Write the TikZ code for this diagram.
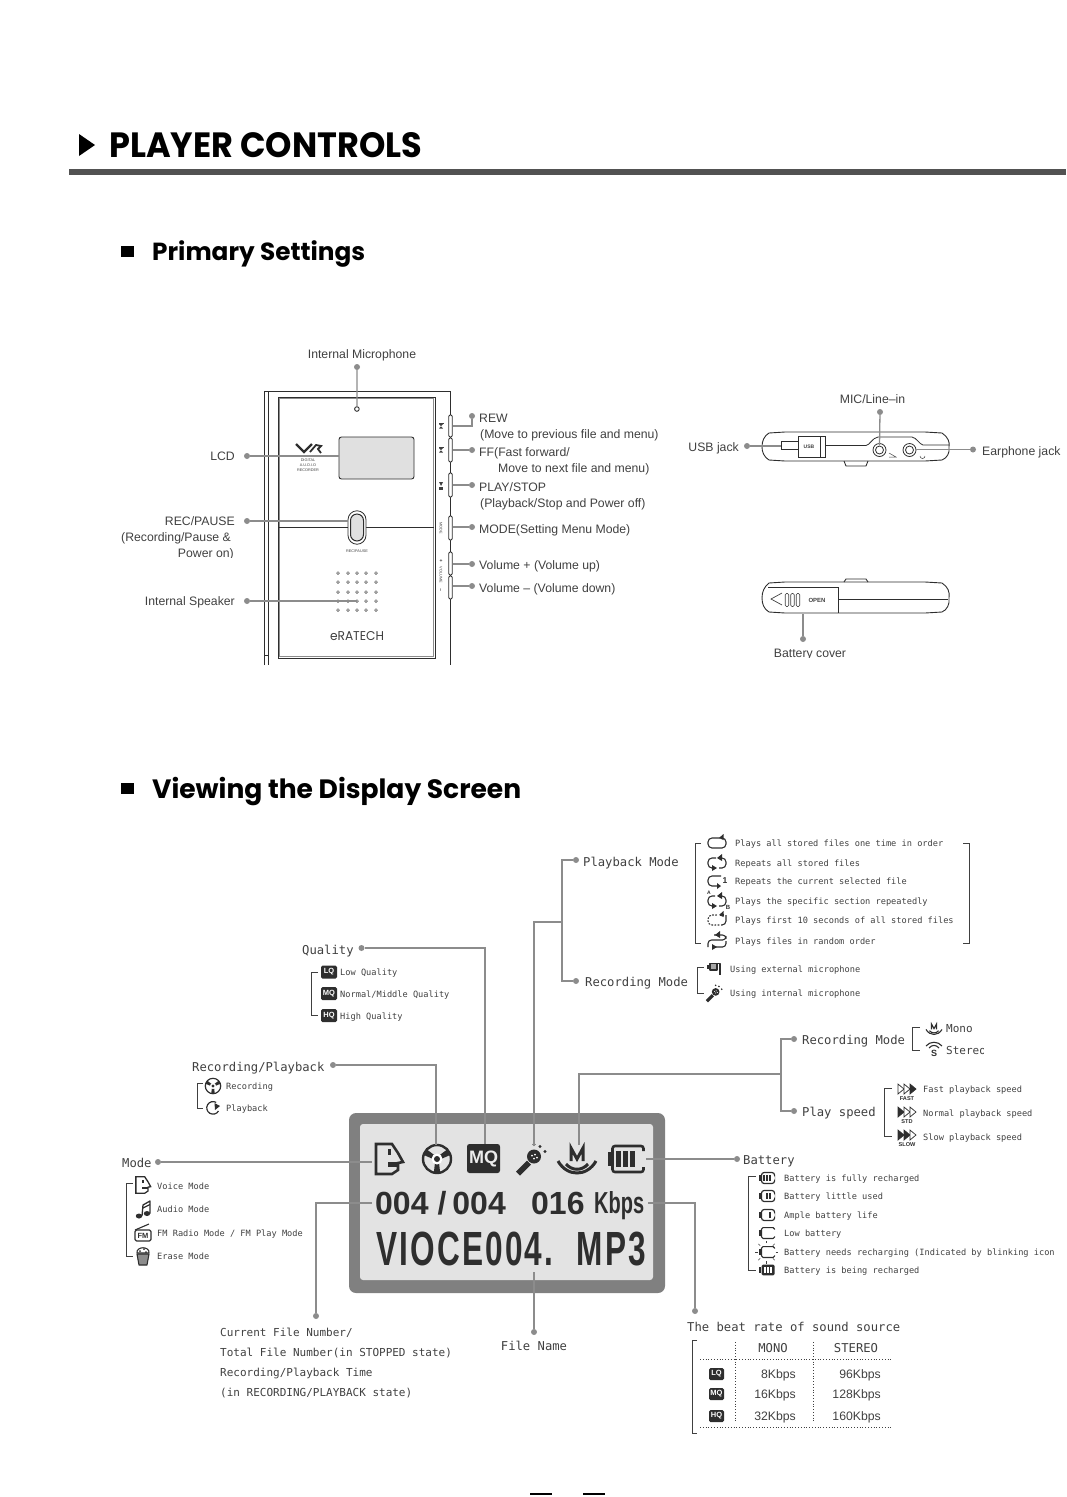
\documentclass[tikz,border=0pt]{standalone}
\usepackage{fontspec}
\usepackage{graphicx}
\setmainfont{Liberation Sans}
\newfontfamily\gm{DejaVu Sans Mono}
\newfontfamily\popn{Poppins}
\usetikzlibrary{arrows.meta,calc}
\definecolor{tx}{HTML}{404040}
\definecolor{cn}{HTML}{8C8C8C}
\definecolor{dk}{HTML}{2E2E2E}
\tikzset{
  conn/.style={draw=cn,line width=1.3pt,line join=miter},
  cdot/.style={circle,fill=cn,inner sep=0pt,minimum size=6pt},
  tsm/.style={anchor=west,inner sep=0pt,text=tx,text height=6pt,text depth=0pt,font=\gm\fontsize{8.64pt}{10pt}\selectfont},
  tmd/.style={anchor=west,inner sep=0pt,text=tx,text height=8pt,text depth=0pt,font=\gm\fontsize{11pt}{13pt}\selectfont},
  tlg/.style={anchor=west,inner sep=0pt,text=tx,text height=9pt,text depth=0pt,font=\gm\fontsize{12.2pt}{14pt}\selectfont},
  tup/.style={anchor=west,inner sep=0pt,text=tx,text height=8.5pt,text depth=0pt,font=\fontsize{12.25pt}{14pt}\selectfont},
  tupr/.style={tup,anchor=east},
  brk/.style={draw=tx,line width=1pt},
  ico/.style={draw=dk,line width=1.1pt,line join=round},
  badge/.style={rectangle,rounded corners=1.5pt,fill=dk,text=white,inner sep=0pt,minimum width=16pt,minimum height=13pt,font=\bfseries\fontsize{7.5pt}{8pt}\selectfont},
  tiny/.style={inner sep=0pt,text=tx,font=\fontsize{4pt}{5pt}\selectfont},
  hdot/.style={draw=tx,line width=.5pt,fill=white},
  dev/.style={draw=dk,line width=.9pt},
  pics/face/.style={code={
    \draw[line join=miter] (-13,15)--(-13,-15)--(3,-15)--(9,-6)--(14,3)--(9,4)--(9,11)--(3,15)--cycle;
    \fill (-1,-10) rectangle (1.5,-4);
    \fill (-1,3) rectangle (9,8);
  }},
  pics/reel/.style={code={
    \draw (0,0) circle (14);
    \foreach \a in {90,210,330}{\fill (\a-30:4)--(\a-13:14)--(\a+13:14)--(\a+30:4)--cycle;}
    \fill[white] (0,0) circle (5.5);
    \fill (0,0) circle (3);
  }},
  pics/batt/.style={code={
    \draw[rounded corners=2.5] (18,-8)--(18,-13)--(-13,-13)--(-13,13)--(18,13)--(18,8);
    \fill (-18,-7) rectangle (-15,7);
    \foreach \i in {1,...,#1}{\ifnum\i>0\fill ({9-7*(\i-1)},-8) rectangle ({4-7*(\i-1)},8);\fi}
  }},
  pics/intmic/.style={code={
    \fill (-15,13)--(-11,17)--(0,6)--(-4,2)--cycle;
    \fill (3,-2) circle (7);
    \fill[white] (1,-3) circle (1) (4,-4) circle (1) (3,0) circle (1) (6,-1) circle (1);
    \fill (9,-12) circle (1.6) (14,-7) circle (1.6) (3,-14) circle (1.6);
  }},
  pics/monoic/.style={code={
    \draw[line join=miter] (-6,1)--(-6,-12)--(0,-1)--(6,-12)--(6,1);
    \draw (-19,1) .. controls (-10,17) and (10,17) .. (19,1);
    \draw (-11,4) .. controls (-5,11) and (5,11) .. (11,4);
  }},
}
\begin{document}
\begin{tikzpicture}[x=1pt,y=-1pt]
\useasboundingbox (0,0) rectangle (1066,1497);

% ---------- headings
\fill (79,134)--(95,145)--(79,156)--cycle;
\node[anchor=west,inner sep=0pt,text height=25pt,text depth=0pt,font=\popn\bfseries\fontsize{34pt}{36pt}\selectfont] (title) at (109,145) {\resizebox{313pt}{25pt}{PLAYER CONTROLS}};
\fill[black!68] (69,169) rectangle (1066,175);
\fill (121,246) rectangle (134,257);
\node[anchor=west,inner sep=0pt,text height=20pt,text depth=0pt,font=\popn\bfseries\fontsize{27pt}{30pt}\selectfont] (sub1) at (152,250) {\resizebox{213pt}{!}{Primary Settings}};
\fill (121,783) rectangle (134,794);
\node[anchor=west,inner sep=0pt,text height=20pt,text depth=0pt,font=\popn\bfseries\fontsize{27pt}{30pt}\selectfont] (sub2) at (152,788) {\resizebox{369pt}{!}{Viewing the Display Screen}};

% ---------- front of the device
\draw[dev] (264,665)--(264,391)--(450,391)--(450,665);
\draw[dev,line width=.6pt] (268.5,391)--(268.5,665);
\draw[dev,line width=.6pt] (264.5,655)--(268.5,655);
\draw[draw=dk,line width=.9pt] (278,397) rectangle (435,658);
\draw[draw=black!45,line width=.7pt] (279.5,398.5) rectangle (433.5,656.5);
\draw[draw=dk,line width=.8pt] (279,527)--(434,527);
\foreach \yy/\hh/\nn in {426/22/bRew,450/24/bFf,485/24/bPlay,528/24/bMode,563.5/23/bVp,587.5/23/bVm}{
  \node[draw=dk,line width=.8pt,fill=white,rounded corners=1.2pt,minimum width=3.5pt,minimum height=\hh pt,inner sep=0pt] (\nn) at (450.5,\yy) {};
}
\node[tiny,rotate=-90,font=\fontsize{3.8pt}{5pt}\selectfont] (tMd) at (441,528) {MODE};
\node[tiny,rotate=-90,font=\fontsize{3.8pt}{5pt}\selectfont] (tVl) at (441,575) {VOLUME};
\node[tiny,font=\bfseries\fontsize{5pt}{5pt}\selectfont] (tVp) at (441,561) {+};
\node[tiny,font=\bfseries\fontsize{5pt}{5pt}\selectfont] (tVm) at (441,590) {\rotatebox{90}{--}};
\foreach \yy in {426,450}{\fill[tx] (438.5,\yy-3) rectangle (443.5,\yy-2.3); \fill[tx] (439,\yy-2)--(443,\yy-2)--(441,\yy+.2)--cycle; \fill[tx] (439,\yy+2.5)--(443,\yy+2.5)--(441,\yy+.4)--cycle; }
\fill[tx] (439,482)--(443,482)--(441,486)--cycle;
\fill[tx] (439.3,487) rectangle (442.7,489.5);
\node[draw=dk,line width=.9pt,fill=black!12,rounded corners=2.5pt,minimum width=75pt,minimum height=42pt,inner sep=0pt] (lcdUp) at (376.5,458) {};
\draw[draw=dk,line width=.9pt] (356.9,409) circle (2.3);
\coordinate (micHole) at (356.9,406.5);
% VR logo
\draw[dk,line width=2.2pt,line join=miter] (296,444)--(304,452)--(312,444);
\draw[dk,line width=1.8pt] (310,452)--(316,445)--(321,446)--(318,449)--(321,453);
\node[tiny,font=\fontsize{3.8pt}{5pt}\selectfont] (dig1) at (308,460) {DIGITAL};
\node[tiny,font=\fontsize{3.8pt}{5pt}\selectfont] (dig2) at (308,465) {A.U.D.I.O};
\node[tiny,font=\fontsize{3.8pt}{5pt}\selectfont] (dig3) at (308,470) {RECORDER};
\node[draw=dk,line width=.8pt,fill=white,rounded corners=9pt,minimum width=18pt,minimum height=33.5pt,inner sep=0pt] (recB) at (357,527.5) {};
\node[draw=dk,line width=1pt,fill=black!12,rounded corners=6.5pt,minimum width=13pt,minimum height=27pt,inner sep=0pt] (recI) at (357,527.5) {};
\node[tiny,font=\fontsize{3.8pt}{5pt}\selectfont] (recT) at (357,551) {REC/PAUSE};
\foreach \xx in {338,348,357,366,376}{\foreach \yy in {573,582,592,601,610}{\draw[hdot] (\xx,\yy) circle (1.4);}}
\node[inner sep=0pt,text=tx,font=\popn\fontsize{9.5pt}{11pt}\selectfont] (era) at (357,636) {\resizebox{54pt}{9pt}{eRATECH}};
\coordinate (spkT) at (357,601);

\node[cdot] (dMic) at (357,367) {};
\node[tup,anchor=center] (lMic) at (362,354.5) {Internal Microphone};
\draw[conn] (dMic)--(micHole);
\node[cdot] (dLcd) at (247,456) {};
\node[tupr] (lLcd) at (235,456) {LCD};
\draw[conn] (dLcd)--(dLcd-|lcdUp.west);
\node[cdot] (dRec) at (247,521) {};
\node[tupr] (lRec) at (235,521) {REC/PAUSE};
\node[tupr] (lRec2) at (231,537) {(Recording/Pause \&};
\node[tupr] (lRec3) at (234,553) {Power on)};
\draw[conn] (dRec)--(dRec-|recB.west);
\node[cdot] (dSpk) at (247,601) {};
\node[tupr] (lSpk) at (235,601) {Internal Speaker};
\draw[conn] (dSpk)--(spkT);

\node[cdot] (dRew) at (472,416) {};
\node[tup] (lRew) at (479,418) {REW};
\node[tup] (lRew2) at (480,434) {(Move to previous file and menu)};
\draw[conn] (dRew)--(472,426)--(bRew.east);
\node[cdot] (dFf) at (472,450) {};
\node[tup] (lFf) at (479,452) {FF(Fast forward/};
\node[tup] (lFf2) at (498,468) {Move to next file and menu)};
\draw[conn] (dFf)--(bFf.east);
\node[cdot] (dPl) at (472,485) {};
\node[tup] (lPl) at (479,487) {PLAY/STOP};
\node[tup] (lPl2) at (480,503) {(Playback/Stop and Power off)};
\draw[conn] (dPl)--(bPlay.east);
\node[cdot] (dMd) at (472,527) {};
\node[tup] (lMd) at (479,529) {MODE(Setting Menu Mode)};
\draw[conn] (dMd)--(dMd-|bMode.east);
\node[cdot] (dVp) at (472,564) {};
\node[tup] (lVp) at (479,565) {Volume + (Volume up)};
\draw[conn] (dVp)--(dVp-|bVp.east);
\node[cdot] (dVm) at (472,586) {};
\node[tup] (lVm) at (479,588) {Volume -- (Volume down)};
\draw[conn] (dVm)--(dVm-|bVm.east);

% ---------- top view
\draw[dev] (769,433)--(785,432)--(925,432)--(942,433) .. controls (948,437) and (950,442) .. (949,447) .. controls (950,453) and (947,458) .. (942,460)--(925,461)--(785,461)--(769,460) .. controls (764,457) and (762,452) .. (762,447) .. controls (762,441) and (764,436) .. (769,433)--cycle;
\draw[dev] (844,461)--(846,466)--(866,466)--(868,461);
\draw[dev,line width=.8pt] (825,445.5)--(866,445.5) .. controls (870,445) and (872,438) .. (878,437)--(912,437) .. controls (917,438) and (919,444) .. (923,445)--(949,445);
\node[draw=dk,line width=.8pt,minimum width=17pt,minimum height=8pt,inner sep=0pt] (usbN) at (789.5,445) {};
\node[draw=dk,line width=.8pt,fill=white,minimum width=22pt,minimum height=21pt,inner sep=0pt,font=\bfseries\fontsize{5pt}{6pt}\selectfont,text=tx] (usbB) at (809,446.5) {USB};
\node[draw=dk,line width=.8pt,fill=white,minimum width=5pt,minimum height=21pt,inner sep=0pt] (usbC) at (822.5,446.5) {};
\draw[dev,line width=.8pt,fill=white] (879.5,450) circle (6.5);
\draw[dev,line width=.8pt,fill=white] (879.5,450) circle (4);
\draw[dev,line width=.8pt,fill=white] (909.5,450) circle (6.5);
\draw[dev,line width=.8pt,fill=white] (909.5,450) circle (4);
\draw[tx,line width=.5pt] (889,453)--(896,457)--(889,457);
\draw[tx,line width=.5pt] (920,456) arc (180:0:2.5);
\coordinate (jMic) at (879.5,445);
\coordinate (jEar) at (916,449.5);
\node[cdot] (dU) at (747,446) {};
\node[tupr] (lU) at (739,447) {USB jack};
\draw[conn] (dU)--(dU-|usbN.west);
\node[cdot] (dM) at (880,412) {};
\node[tup,anchor=center] (lM) at (872.5,399) {MIC/Line--in};
\draw[conn] (dM)--(jMic);
\node[cdot] (dE) at (973,449.5) {};
\node[tup] (lE) at (982,451) {Earphone jack};
\draw[conn] (dE)--(jEar);

% ---------- bottom view
\draw[dev] (769,583)--(785,582)--(925,582)--(942,583) .. controls (948,587) and (950,592) .. (949,598) .. controls (950,604) and (947,610) .. (942,612)--(925,613)--(785,613)--(769,612) .. controls (764,609) and (762,604) .. (762,598) .. controls (762,592) and (764,587) .. (769,583)--cycle;
\draw[dev] (844,582)--(846,579)--(866,579)--(868,582);
\draw[dev,line width=.7pt] (768,587)--(838,587)--(838,613);
\draw[dev,line width=.7pt] (838,599)--(948,599);
\draw[tx,line width=.7pt] (782,593)--(771,599)--(782,605);
\foreach \xx/\nn in {787/c1,792.5/c2,798/c3}{\node[draw=tx,line width=.6pt,rounded corners=1.2pt,minimum width=3.5pt,minimum height=13pt,inner sep=0pt] (\nn) at (\xx,600) {};}
\node[inner sep=0pt,text=tx,font=\bfseries\fontsize{6pt}{7pt}\selectfont] (opn) at (817,600) {OPEN};
\coordinate (cvr) at (803,613.5);
\node[cdot] (dC) at (803,639) {};
\node[tup,anchor=center] (lC) at (810,653) {Battery cover};
\draw[conn] (dC)--(cvr);

% ---------- LCD
\node[rectangle,fill=black!50,rounded corners=7pt,minimum width=316pt,minimum height=180pt,inner sep=0pt] (lcdO) at (507,1203) {};
\node[rectangle,fill=black!11,rounded corners=3pt,minimum width=293pt,minimum height=156pt,inner sep=0pt] (lcdI) at (506.5,1202) {};
\pic[draw=dk,fill=dk,line width=2.6pt] (iFace) at (389,1159) {face};
\pic[draw=dk,fill=dk,line width=2.4pt] (iReel) at (437,1159) {reel};
\node[rectangle,fill=dk,rounded corners=2.5pt,minimum width=33pt,minimum height=29pt,inner sep=0pt,text=black!8,font=\bfseries\fontsize{18pt}{20pt}\selectfont] (iMQ) at (483.5,1158.5) {MQ};
\pic[fill=dk] (iMic) at (531,1158.5) {intmic};
\pic[draw=dk,line width=3pt] (iMono) at (577,1160) {monoic};
\pic[draw=dk,fill=dk,line width=2.6pt] (iBatt) at (625.5,1159) {batt=3};
\node[anchor=west,inner sep=0pt,text=dk,text height=23pt,text depth=0pt,font=\bfseries\fontsize{32pt}{34pt}\selectfont] (tNum) at (375,1203) {004\kern9pt/\kern6pt004};
\node[anchor=west,inner sep=0pt,text=dk,text height=23pt,text depth=0pt,font=\bfseries\fontsize{32pt}{34pt}\selectfont] (tRate) at (531,1203) {016};
\node[anchor=base west,inner sep=0pt,text=dk,font=\bfseries\fontsize{21pt}{23pt}\selectfont] (tKb) at (594,1213.5) {\resizebox{50pt}{22pt}{Kbps}};
\node[anchor=west,inner sep=0pt,text=dk,text height=33pt,text depth=0pt,font=\bfseries\fontsize{46pt}{48pt}\selectfont] (tName) at (376,1249) {\resizebox{270pt}{33.5pt}{\addfontfeature{LetterSpace=7}VIOCE004.\kern34pt MP3}};

% connector anchors at the LCD
\coordinate (aFace) at (372,1162);
\coordinate (aReel) at (436,1145);
\coordinate (aMQ) at (485,1144);
\coordinate (aMic) at (534,1146);
\coordinate (aMono) at (579,1145);
\coordinate (aBatt) at (646,1159);
\coordinate (aNum) at (372,1203);
\coordinate (aKbps) at (648,1203);
\coordinate (aName) at (534,1272);
\coordinate (brP) at (562,922);
\coordinate (brR) at (781,1074);

% ---------- playback mode
\node[cdot] (dPb) at (576,860) {};
\node[tlg] (lPb) at (583,862) {Playback Mode};
\node[cdot] (dRm) at (576,981) {};
\node[tlg] (lRm) at (585,982) {Recording Mode};
\draw[conn] (dPb)-|(brP);
\draw[conn] (dRm)-|(brP);
\draw[conn] (aMic)|-(brP);
\draw[brk] (701,843)-|(695,943)--(701,943);
\draw[brk] (963,843)-|(969,943)--(963,943);
\node[tsm] (p1) at (735,843) {Plays all stored files one time in order};
\node[tsm] (p2) at (735,863) {Repeats all stored files};
\node[tsm] (p3) at (735,881) {Repeats the current selected file};
\node[tsm] (p4) at (735,901) {Plays the specific section repeatedly};
\node[tsm] (p5) at (735,920) {Plays first 10 seconds of all stored files};
\node[tsm] (p6) at (735,941) {Plays files in random order};
\begin{scope}[shift={(717,843)}]
 \draw[ico,rounded corners=4pt] (3,-5)--(-9,-5)--(-9,5)--(9,5)--(9,-5)--(6,-5);
 \fill[dk] (6.5,-9)--(2,-5)--(6.5,-3)--cycle;
\end{scope}
\begin{scope}[shift={(717,863)}]
 \draw[ico,rounded corners=4pt] (3,-5)--(9,-5)--(9,5)--(2,5);
 \draw[ico,rounded corners=4pt] (-2,5)--(-9,5)--(-9,-5)--(-1,-5);
 \fill[dk] (5,-9)--(0,-5)--(5,-2)--cycle;
 \fill[dk] (-5,2)--(0,5)--(-5,8)--cycle;
\end{scope}
\begin{scope}[shift={(715,881)}]
 \draw[ico,rounded corners=4pt] (6,-5)--(-7,-5)--(-7,5)--(3,5);
 \fill[dk] (2,2)--(6,5)--(2,8)--cycle;
 \node[inner sep=0pt,text=dk,font=\bfseries\fontsize{8.5pt}{9pt}\selectfont] (n1) at (10,0) {1};
\end{scope}
\begin{scope}[shift={(717,901)}]
 \draw[ico,rounded corners=4pt] (2,-5)--(9,-5)--(9,5)--(2,5);
 \draw[ico,rounded corners=4pt] (-2,5)--(-9,5)--(-9,-5)--(-2,-5);
 \fill[dk] (5,-9)--(0,-5)--(5,-2)--cycle;
 \fill[dk] (-5,2)--(0,5)--(-5,8)--cycle;
 \node[inner sep=0pt,text=dk,font=\bfseries\fontsize{5pt}{6pt}\selectfont] (nA) at (-8,-8) {A};
 \node[inner sep=0pt,text=dk,font=\bfseries\fontsize{6pt}{7pt}\selectfont] (nB) at (11,6) {B};
\end{scope}
\begin{scope}[shift={(717,920)}]
 \draw[ico,rounded corners=4pt] (9,-5)--(9,5)--(4,5);
 \draw[ico,dotted,line cap=round,rounded corners=4pt] (2,5)--(-9,5)--(-9,-5)--(0,-5);
 \draw[ico] (3,-5)--(7,-5);
 \fill[dk] (6.5,-9)--(2,-5)--(6.5,-3)--cycle;
\end{scope}
\begin{scope}[shift={(717,941)}]
 \draw[ico,rounded corners=3.5pt] (-9,6)--(-9,-1)--(2,-1)--(9,-1)--(9,-6)--(-3,-6);
 \draw[ico,rounded corners=3.5pt] (9,0)--(9,6)--(-3,6);
 \fill[dk] (3,-10)--(-2,-6)--(3,-3)--cycle;
 \fill[dk] (-5,3)--(0,6)--(-5,9)--cycle;
\end{scope}
\draw[brk] (704,967)-|(697,993)--(704,993);
\begin{scope}[shift={(714,968)}]
 \fill[dk] (-7,-3.5) rectangle (-4,1);
 \draw[ico,fill=black!35] (-4,-4.5) rectangle (3,2);
 \draw[ico] (3,-4.5)--(6,-4.5)--(6,7);
\end{scope}
\pic[fill=dk,scale=.55] (iIm) at (714,993) {intmic};
\node[tsm] (r1) at (730,969) {Using external microphone};
\node[tsm] (r2) at (730,993) {Using internal microphone};

% ---------- quality
\node[tlg] (lQ) at (302,950) {Quality};
\node[cdot] (dQ) at (361.5,948) {};
\draw[conn] (dQ)-|(aMQ);
\draw[brk] (318,972)-|(311,1015)--(318,1015);
\node[badge] (q1) at (329,972) {LQ};
\node[badge] (q2) at (329,993.5) {MQ};
\node[badge] (q3) at (329,1015.5) {HQ};
\node[tsm] (q1t) at (340,972) {Low Quality};
\node[tsm] (q2t) at (340,994) {Normal/Middle Quality};
\node[tsm] (q3t) at (340,1016) {High Quality};

% ---------- recording / playback
\node[tlg] (lRp) at (192,1066.5) {Recording/Playback};
\node[cdot] (dRp) at (333,1065) {};
\draw[conn] (dRp)-|(aReel);
\draw[brk] (203,1083)-|(197,1108)--(203,1108);
\pic[draw=dk,fill=dk,line width=1.2pt,scale=.55] (iR1) at (213,1086) {reel};
\begin{scope}[shift={(213,1108)}]
 \draw[ico,line width=1.2pt] (5.5,3) arc (30:300:6.3);
 \fill[dk] (1.5,-5)--(7,-2)--(2,2)--cycle;
\end{scope}
\node[tsm] (rp1) at (226,1086) {Recording};
\node[tsm] (rp2) at (226,1108) {Playback};

% ---------- mode
\node[tlg] (lMode) at (122,1162.5) {Mode};
\node[cdot] (dMode) at (158,1162) {};
\draw[conn] (dMode)--(aFace);
\draw[brk] (133,1183)-|(126,1256)--(133,1256);
\pic[draw=dk,fill=dk,line width=1.3pt,scale=.55] (iV) at (143,1185) {face};
\begin{scope}[shift={(143,1209)}]
 \fill[dk] (-4,7) ellipse (3.2 and 2.5);
 \fill[dk] (4,4.5) ellipse (3.2 and 2.5);
 \draw[ico,line width=1.3pt] (-1,7)--(0,-4)--(7,-8)--(7,4.5);
 \draw[ico,line width=1.3pt] (0,-1)--(7,-4.5);
\end{scope}
\begin{scope}[shift={(143,1233)}]
 \draw[ico,rounded corners=1.5pt] (-8,-3) rectangle (8,8);
 \draw[ico] (-8,-3)--(6,-9);
 \node[inner sep=0pt,text=dk,font=\bfseries\fontsize{7.5pt}{8pt}\selectfont] (fmT) at (0,2.7) {FM};
\end{scope}
\begin{scope}[shift={(143,1256)}]
 \draw[ico,fill=black!45] (-6,-2)--(-4,9)--(4,9)--(6,-2)--cycle;
 \draw[ico,fill=white] (-6,-3) .. controls (-7,-10) and (7,-10) .. (6,-3)--cycle;
 \fill[dk] (-3,-5) circle (1) (1,-7) circle (1) (3,-4) circle (1);
\end{scope}
\node[tsm] (m1) at (157,1186) {Voice Mode};
\node[tsm] (m2) at (157,1209.5) {Audio Mode};
\node[tsm] (m3) at (157,1233) {FM Radio Mode / FM Play Mode};
\node[tsm] (m4) at (157,1256) {Erase Mode};

% ---------- current file
\node[cdot] (dCur) at (316,1316) {};
\draw[conn] (dCur)|-(aNum);
\node[tmd] (c1) at (220,1332) {Current File Number/};
\node[tmd] (c2) at (220,1352) {Total File Number(in STOPPED state)};
\node[tmd] (c3) at (220,1372) {Recording/Playback Time};
\node[tmd] (c4) at (220,1392) {(in RECORDING/PLAYBACK state)};

% ---------- file name
\node[cdot] (dFn) at (534,1332) {};
\draw[conn] (dFn)--(aName);
\node[tlg,anchor=center] (lFn) at (534,1346) {File Name};

% ---------- beat rate
\node[cdot] (dBr) at (695,1311) {};
\draw[conn] (dBr)|-(aKbps);
\node[tlg] (lBr) at (687,1327) {The beat rate of sound source};
\draw[brk] (697,1340)-|(692,1433)--(697,1433);
\draw[tx,line width=.8pt,dotted] (700,1359)--(892,1359);
\draw[tx,line width=.8pt,dotted] (700,1427)--(892,1427);
\draw[tx,line width=.8pt,dotted] (735,1342)--(735,1423);
\draw[tx,line width=.8pt,dotted] (813,1342)--(813,1423);
\node[tlg,anchor=center] (hM) at (773,1348) {MONO};
\node[tlg,anchor=center] (hS) at (856,1348) {STEREO};
\node[badge,minimum width=15pt,minimum height=12pt] (b1) at (716.5,1374) {LQ};
\node[badge,minimum width=15pt,minimum height=12pt] (b2) at (716.5,1394) {MQ};
\node[badge,minimum width=15pt,minimum height=12pt] (b3) at (716.5,1416) {HQ};
\foreach \yy/\aa/\bb/\nn in {1374/8Kbps/96Kbps/v1,1394/16Kbps/128Kbps/v2,1416/32Kbps/160Kbps/v3}{
 \node[tupr] (\nn a) at (796,\yy) {\aa};
 \node[tupr] (\nn b) at (881,\yy) {\bb};
}

% ---------- right branch
\node[cdot] (dRm2) at (794,1039) {};
\node[tlg] (lRm2) at (802,1040) {Recording Mode};
\node[cdot] (dSp) at (794,1111) {};
\node[tlg] (lSp) at (802,1112) {Play speed};
\draw[conn] (dRm2)-|(brR);
\draw[conn] (dSp)-|(brR);
\draw[conn] (aMono)|-(brR);
\draw[brk] (920,1027)-|(912,1050)--(920,1050);
\pic[draw=dk,line width=1.1pt,scale=.42] (iMn) at (934,1029) {monoic};
\begin{scope}[shift={(934,1050)}]
 \draw[ico] (-8,-4) .. controls (-4,-9) and (4,-9) .. (8,-4);
 \draw[ico] (-5,-2) .. controls (-2,-5.5) and (2,-5.5) .. (5,-2);
 \node[inner sep=0pt,text=dk,font=\bfseries\fontsize{9pt}{10pt}\selectfont] (sS) at (0,3) {S};
\end{scope}
\node[tmd] (sp1) at (946,1028) {Mono};
\node[tmd] (sp2) at (946,1050) {Stereo};
\draw[brk] (892,1088)-|(884,1136)--(892,1136);
\newcommand{\spdicon}[7]{%
 \begin{scope}[shift={(#1,#2)}]
  \foreach \xo/\fc in {-6/#3,0/#4,6/#5}{\draw[draw=dk,line width=.7pt,fill=\fc] (\xo-3,-6)--(\xo+3,-1)--(\xo-3,4)--cycle;}
  \node[inner sep=0pt,text=dk,font=\bfseries\fontsize{5.6pt}{6pt}\selectfont] (#7) at (0,8.5) {#6};
 \end{scope}}
\spdicon{907}{1090}{white}{white}{dk}{FAST}{sF}
\spdicon{907}{1113}{dk}{white}{white}{STD}{sT}
\spdicon{907}{1136}{dk}{dk}{white}{SLOW}{sL}
\node[tsm] (f1) at (923,1089) {Fast playback speed};
\node[tsm] (f2) at (923,1113) {Normal playback speed};
\node[tsm] (f3) at (923,1137) {Slow playback speed};

% ---------- battery
\node[cdot] (dBat) at (737,1159) {};
\draw[conn] (dBat)--(aBatt);
\node[tlg] (lBat) at (743,1159.5) {Battery};
\draw[brk] (756,1176)-|(748,1270)--(756,1270);
\pic[draw=dk,fill=dk,line width=1.2pt,scale=.42] (b31) at (767,1178) {batt=3};
\pic[draw=dk,fill=dk,line width=1.2pt,scale=.42] (b32) at (767,1196) {batt=2};
\pic[draw=dk,fill=dk,line width=1.2pt,scale=.42] (b33) at (767,1215) {batt=1};
\begin{scope}[shift={(767,1233)},scale=.42]
 \draw[ico,rounded corners=1.5pt] (18,-8)--(18,-13)--(-13,-13)--(-13,13)--(18,13)--(18,8);
 \fill[dk] (-18,-7) rectangle (-15,7);
\end{scope}
\begin{scope}[shift={(767,1252)},scale=.42]
 \draw[ico,rounded corners=1.5pt] (18,-8)--(18,-13)--(-13,-13)--(-13,13)--(18,13)--(18,8);
 \fill[dk] (-18,-7) rectangle (-15,7);
\end{scope}
\foreach \a in {0,45,90,135,180,225,270,315}{\draw[tx,line width=.6pt] ($(766.5,1252)+(\a:9)$)--($(766.5,1252)+(\a:11.5)$);}
\begin{scope}[shift={(767,1270)},scale=.42]
 \fill[dk,rounded corners=1.5pt] (-13,-13) rectangle (18,13);
 \fill[dk] (-18,-7) rectangle (-15,7);
 \foreach \xx in {-7,0,7}{\fill[white] (\xx,-8) rectangle (\xx+4,8);}
\end{scope}
\node[tsm] (bt1) at (784,1178) {Battery is fully recharged};
\node[tsm] (bt2) at (784,1196) {Battery little used};
\node[tsm] (bt3) at (784,1215) {Ample battery life};
\node[tsm] (bt4) at (784,1233) {Low battery};
\node[tsm] (bt5) at (784,1252) {Battery needs recharging (Indicated by blinking icon)};
\node[tsm] (bt6) at (784,1270) {Battery is being recharged};

% ---------- cropped text edges as printed
\fill[white] (770,657.5) rectangle (860,664);
\fill[white] (170,558) rectangle (240,564);
\fill[white] (983.5,1042) rectangle (1020,1058);
\fill[white] (1021.5,1083) rectangle (1040,1095);
\fill[white] (1021.5,1131) rectangle (1040,1143);
\fill[white] (1055.5,1246) rectangle (1066,1258);

% ---------- page number remnant
\fill[black] (530,1493) rectangle (552,1495);
\fill[black] (583,1493) rectangle (605,1495);
\end{tikzpicture}
\end{document}
